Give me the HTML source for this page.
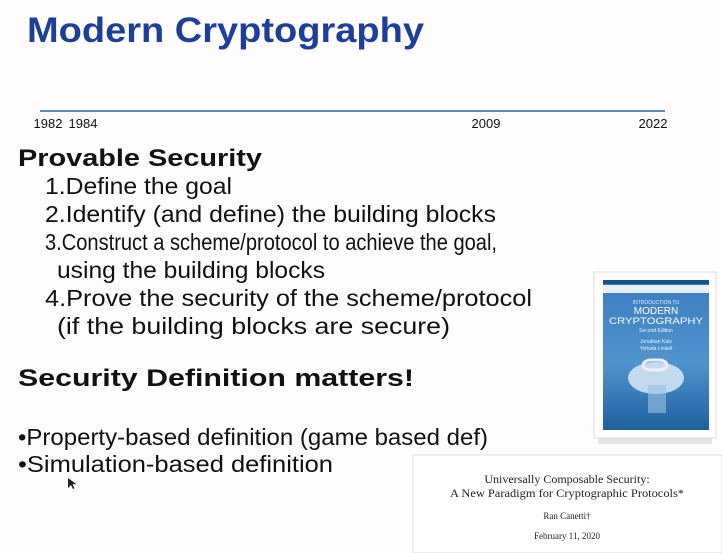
<!DOCTYPE html>
<html><head><meta charset="utf-8"><style>
html,body{margin:0;padding:0;background:#fefcfd;}
svg{display:block;}
</style></head><body>
<svg width="722" height="553" viewBox="0 0 722 553" font-family="'Liberation Sans', sans-serif">
<rect width="722" height="553" fill="#fefcfd"/>
<text x="27" y="42" font-size="35" font-weight="bold" fill="#1d3f9a" textLength="397" lengthAdjust="spacingAndGlyphs">Modern Cryptography</text>

<g id="timeline"></g>

<g fill="#111">
<text x="18" y="166" font-size="24" font-weight="bold" textLength="244" lengthAdjust="spacingAndGlyphs">Provable Security</text>
<text x="45" y="194" font-size="23" textLength="187" lengthAdjust="spacingAndGlyphs">1.Define the goal</text>
<text x="45" y="222" font-size="23" textLength="451" lengthAdjust="spacingAndGlyphs">2.Identify (and define) the building blocks</text>
<text x="45" y="250" font-size="23" textLength="452" lengthAdjust="spacingAndGlyphs">3.Construct a scheme/protocol to achieve the goal,</text>
<text x="57" y="278" font-size="23" textLength="268" lengthAdjust="spacingAndGlyphs">using the building blocks</text>
<text x="45" y="306" font-size="23" textLength="487" lengthAdjust="spacingAndGlyphs">4.Prove the security of the scheme/protocol</text>
<text x="57" y="334" font-size="23" textLength="393" lengthAdjust="spacingAndGlyphs">(if the building blocks are secure)</text>
<text x="18" y="386" font-size="24" font-weight="bold" textLength="396" lengthAdjust="spacingAndGlyphs">Security Definition matters!</text>
<text x="18" y="445" font-size="23" textLength="470" lengthAdjust="spacingAndGlyphs">•Property-based definition (game based def)</text>
<text x="18" y="472" font-size="23" textLength="315" lengthAdjust="spacingAndGlyphs">•Simulation-based definition</text>
</g>

<g>
<rect x="594" y="272" width="122" height="166" fill="#fff" stroke="#ddd"/>
<defs><linearGradient id="bk" x1="0" y1="0" x2="0" y2="1"><stop offset="0" stop-color="#3b7cc0"/><stop offset="0.55" stop-color="#4f94cf"/><stop offset="1" stop-color="#1f5f9e"/></linearGradient></defs>
<rect x="603" y="280" width="106" height="150" fill="url(#bk)"/>
<rect x="603" y="280" width="106" height="4" fill="#1b4f8a"/>
<rect x="603" y="285" width="106" height="8" fill="#e8eef5"/>
<text x="656" y="304" font-size="5" fill="#e8f2ff" text-anchor="middle">INTRODUCTION TO</text>
<text x="656" y="314" font-size="10" fill="#fff" text-anchor="middle">MODERN</text>
<text x="656" y="324" font-size="9" fill="#fff" text-anchor="middle" textLength="94" lengthAdjust="spacingAndGlyphs">CRYPTOGRAPHY</text>
<text x="656" y="332" font-size="5" fill="#e8f2ff" text-anchor="middle">Second Edition</text>
<text x="656" y="343" font-size="5" fill="#e8f2ff" text-anchor="middle">Jonathan Katz</text>
<text x="656" y="350" font-size="5" fill="#e8f2ff" text-anchor="middle">Yehuda Lindell</text>
<ellipse cx="656" cy="378" rx="28" ry="16" fill="#d9e8f5" opacity="0.85"/>
<rect x="643" y="360" width="24" height="10" rx="8" fill="none" stroke="#eef" stroke-width="3"/>
<rect x="648" y="385" width="18" height="28" fill="#9cc3e3" opacity="0.6"/>
</g>
<rect x="598" y="438" width="114" height="6" fill="#ccc" opacity="0.5"/>

<g font-family="'Liberation Serif', serif" fill="#222">
<rect x="413" y="455" width="309" height="98" fill="#fff" stroke="#ddd"/>
<text x="567" y="483" font-size="12" text-anchor="middle">Universally Composable Security:</text>
<text x="567" y="497" font-size="12" text-anchor="middle" textLength="234" lengthAdjust="spacingAndGlyphs">A New Paradigm for Cryptographic Protocols*</text>
<text x="567" y="519" font-size="9" text-anchor="middle">Ran Canetti†</text>
<text x="567" y="539" font-size="9" text-anchor="middle">February 11, 2020</text>
</g>
<path d="M68 478 l0 10 l3 -3 l2 4 l1.5 -0.7 l-2 -4 l4 0 z" fill="#222"/>
</svg>
<script>
const years = [1982, 1984, 2009, 2022];
const yearLabels = ["1982", "1984", "2009", "2022"];
const domainBreaks = [1982, 2009, 2022];
function xScale(y){
  const r=[48,486,653];
  if (y<=domainBreaks[1]) return r[0]+(y-domainBreaks[0])/(domainBreaks[1]-domainBreaks[0])*(r[1]-r[0]);
  return r[1]+(y-domainBreaks[1])/(domainBreaks[2]-domainBreaks[1])*(r[2]-r[1]);
}
const NS="http://www.w3.org/2000/svg";
const g=document.getElementById('timeline');
const line=document.createElementNS(NS,'line');


line.setAttribute('x1',40);line.setAttribute('x2',665);
line.setAttribute('y1',111);line.setAttribute('y2',111);
line.setAttribute('stroke','#2a6496');line.setAttribute('stroke-width','1.5');
g.appendChild(line);
years.forEach((y,i)=>{
  let x=xScale(y);
  if(i===1) x=Math.max(x,83);
  const t=document.createElementNS(NS,'text');
  
  
  t.setAttribute('x',x);t.setAttribute('y',128);
  t.setAttribute('text-anchor','middle');t.setAttribute('font-size','13');
  t.setAttribute('fill','#111');
  t.textContent=yearLabels[i];
  g.appendChild(t);
});
</script>
</body></html>
